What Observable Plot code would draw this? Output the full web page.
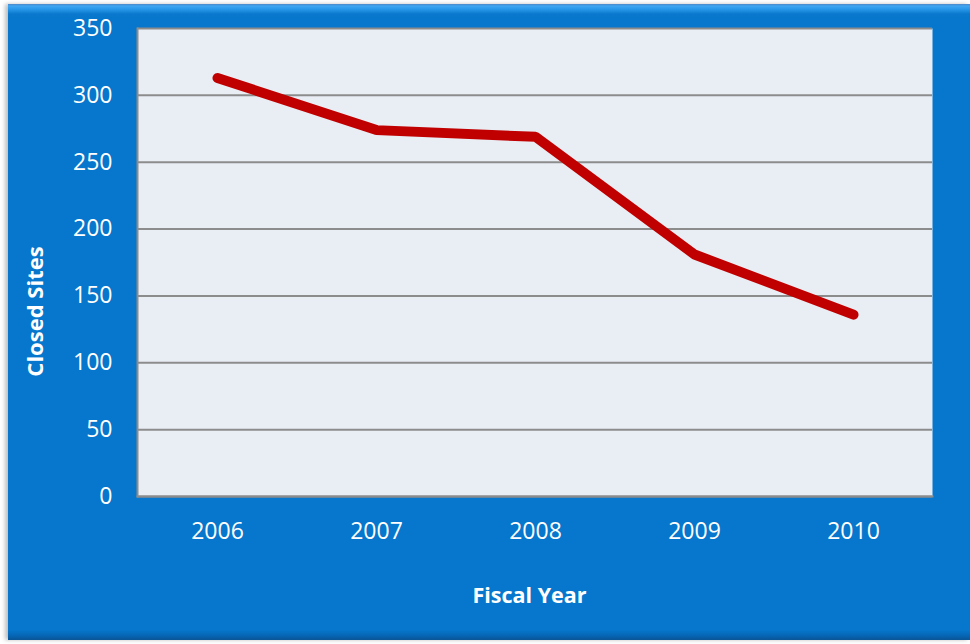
<!DOCTYPE html>
<html>
<head>
<meta charset="utf-8">
<script src="https://cdn.jsdelivr.net/npm/d3@7"></script>
<script src="https://cdn.jsdelivr.net/npm/@observablehq/plot@0.6"></script>
<style>
  html, body { margin: 0; padding: 0; background: #ffffff; }
  body { width: 970px; height: 644px; overflow: hidden; position: relative; font-family: "Open Sans", sans-serif; }
  #panel {
    position: absolute; left: 8px; top: 4px; width: 962px; height: 636px;
    background: linear-gradient(to bottom, #4f86c8 0px, #3fa6f2 2px, #2a98ea 5px, #0a79cd 10px, #0677cc 14px, #0677cc 626px, #0668b8 631px, #0a5596 636px);
    box-shadow: -3px 0 4px rgba(0,0,0,0.25);
  }
  #panel svg { position: absolute; left: 0; top: 0; }
</style>
</head>
<body>
<div id="panel"></div>
<script>
const years = ["2006", "2007", "2008", "2009", "2010"];
const closedSites = [313, 274, 269, 181, 136];
const yTicks = [0, 50, 100, 150, 200, 250, 300, 350];
const yTitle = "Closed Sites";
const xTitle = "Fiscal Year";

const data = years.map((year, i) => ({ year, sites: closedSites[i] }));

const chart = Plot.plot({
  width: 962,
  height: 636,
  marginLeft: 129,
  marginRight: 38,
  marginTop: 24,
  marginBottom: 144,
  style: { background: "transparent", color: "white", fontFamily: "Open Sans, sans-serif", fontSize: "23px", overflow: "visible" },
  x: { type: "point", domain: years, padding: 0.5, label: null, tickSize: 0, tickPadding: 26 },
  y: { domain: [0, 350], ticks: yTicks, label: null, tickSize: 0, tickPadding: 25 },
  marks: [
    Plot.frame({ fill: "#e9edf4", stroke: null }),
    Plot.gridY(yTicks, { stroke: "#8c8c8c", strokeOpacity: 1, strokeWidth: 2 }),
    Plot.frame({ anchor: "left", stroke: "#8c8c8c", strokeWidth: 2 }),
    Plot.frame({ anchor: "bottom", stroke: "#8c8c8c", strokeWidth: 2 }),
    Plot.line(data, { x: "year", y: "sites", stroke: "#c00000", strokeWidth: 10, strokeLinecap: "round", strokeLinejoin: "miter" }),
    Plot.text([yTitle], { frameAnchor: "left", dx: -102, dy: 49, rotate: -90, textAnchor: "middle", lineAnchor: "middle", fill: "white", fontWeight: "bold", fontSize: 22 }),
    Plot.text([xTitle], { frameAnchor: "bottom", dx: -5.5, dy: 100, textAnchor: "middle", lineAnchor: "middle", fill: "white", fontWeight: "bold", fontSize: 21.5 })
  ]
});

document.getElementById("panel").appendChild(chart);
</script>
</body>
</html>
